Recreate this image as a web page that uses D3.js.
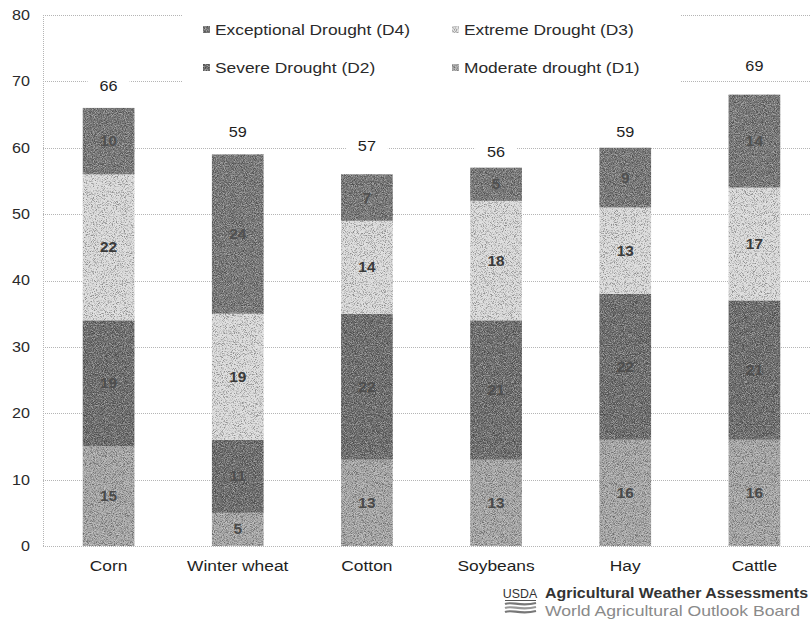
<!DOCTYPE html>
<html>
<head>
<meta charset="utf-8">
<script src="https://cdn.jsdelivr.net/npm/d3@7"></script>
<style>
  html, body { margin: 0; padding: 0; background: #fff; }
  svg { display: block; }
  text { font-family: "Liberation Sans", Arial, sans-serif; }
</style>
</head>
<body>
<svg id="chart" width="810" height="626"></svg>
<script>
// Share of production / inventory in drought, by commodity (%)
const categories = ["Corn", "Winter wheat", "Cotton", "Soybeans", "Hay", "Cattle"];
const moderateD1 = [15, 5, 13, 13, 16, 16];
const severeD2 = [19, 11, 22, 21, 22, 21];
const extremeD3 = [22, 19, 14, 18, 13, 17];
const exceptionalD4 = [10, 24, 7, 5, 9, 14];
const totals = [66, 59, 57, 56, 59, 69];
const yTicks = [0, 10, 20, 30, 40, 50, 60, 70, 80];

const series = [
  { key: "D1", name: "Moderate drought (D1)", values: moderateD1, color: "#a6a6a6", text: "#4a4a4a" },
  { key: "D2", name: "Severe Drought (D2)", values: severeD2, color: "#6e6e6e", text: "#4e4e4e" },
  { key: "D3", name: "Extreme Drought (D3)", values: extremeD3, color: "#d9d9d9", text: "#3a3a3a" },
  { key: "D4", name: "Exceptional Drought (D4)", values: exceptionalD4, color: "#787878", text: "#505050" }
];

const svg = d3.select("#chart");

// widen text horizontally (the lettering is set wide)
function stretch(sel, k) {
  sel.each(function () {
    const len = this.getComputedTextLength();
    d3.select(this).attr("textLength", len * k).attr("lengthAdjust", "spacingAndGlyphs");
  });
}

// grain texture for the bar fills: dark and light specks over the flat fill
const defs = svg.append("defs");
const f = defs.append("filter").attr("id", "grain")
  .attr("x", 0).attr("y", 0).attr("width", 1).attr("height", 1)
  .attr("color-interpolation-filters", "sRGB");
f.append("feTurbulence").attr("type", "fractalNoise").attr("baseFrequency", 1.1)
  .attr("numOctaves", 2).attr("seed", 7).attr("result", "noise");
f.append("feColorMatrix").attr("in", "noise").attr("type", "matrix")
  .attr("values", "0 0 0 0 0  0 0 0 0 0  0 0 0 0 0  4 0 0 0 -2.0").attr("result", "dark");
f.append("feColorMatrix").attr("in", "noise").attr("type", "matrix")
  .attr("values", "0 0 0 0 1  0 0 0 0 1  0 0 0 0 1  -4 0 0 0 2.0").attr("result", "light");
f.append("feComposite").attr("in", "dark").attr("in2", "SourceGraphic").attr("operator", "in").attr("result", "darkIn");
f.append("feComposite").attr("in", "light").attr("in2", "SourceGraphic").attr("operator", "in").attr("result", "lightIn");
f.append("feComponentTransfer").attr("in", "darkIn").attr("result", "darkA")
  .append("feFuncA").attr("type", "linear").attr("slope", 0.35);
f.append("feComponentTransfer").attr("in", "lightIn").attr("result", "lightA")
  .append("feFuncA").attr("type", "linear").attr("slope", 0.35);
const merge = f.append("feMerge");
merge.append("feMergeNode").attr("in", "SourceGraphic");
merge.append("feMergeNode").attr("in", "darkA");
merge.append("feMergeNode").attr("in", "lightA");

const x = d3.scaleBand().domain(categories).range([44, 819]).paddingInner(0.6).paddingOuter(0.3);
const y = d3.scaleLinear().domain([0, 80]).range([546, 15]);

// gridlines
const grid = svg.append("g");
grid.selectAll("line").data(yTicks).join("line")
  .attr("x1", 43).attr("x2", 810)
  .attr("y1", d => Math.round(y(d)) + 0.5).attr("y2", d => Math.round(y(d)) + 0.5)
  .attr("stroke", "#b5b5b5").attr("stroke-dasharray", "1,1");

// vertical axis line
svg.append("line").attr("x1", 43.5).attr("x2", 43.5).attr("y1", y(80)).attr("y2", y(0))
  .attr("stroke", "#b5b5b5").attr("stroke-dasharray", "1,1");

// y tick labels
const yAxis = d3.axisLeft(y).tickValues(yTicks).tickSize(0).tickPadding(13);
const ya = svg.append("g").attr("transform", "translate(43,0)").call(yAxis);
ya.select(".domain").remove();
ya.selectAll("text").attr("font-size", 14).attr("fill", "#2a2a2a")
  .style("font-family", "'Liberation Sans', Arial, sans-serif");
stretch(ya.selectAll("text"), 1.15);

// legend box (white, hides gridlines behind it)
svg.append("rect").attr("x", 182).attr("y", 4).attr("width", 498).attr("height", 86).attr("fill", "#fff");
const legendOrder = [series[3], series[2], series[1], series[0]];
const legendPos = [[203, 30], [452, 30], [203, 68], [452, 68]];
const lg = svg.append("g");
legendOrder.forEach((s, i) => {
  const [lx, ly] = legendPos[i];
  lg.append("rect").attr("x", lx).attr("y", ly - 4).attr("width", 7).attr("height", 7)
    .attr("fill", s.color).attr("filter", "url(#grain)");
  const t = lg.append("text").attr("x", lx + 12).attr("y", ly + 5).attr("font-size", 14)
    .attr("fill", "#2a2a2a").text(s.name);
  stretch(t, 1.24);
});

// stacked bars
const rows = categories.map((c, i) => {
  const r = { category: c };
  series.forEach(s => { r[s.key] = s.values[i]; });
  return r;
});
const stack = d3.stack().keys(series.map(s => s.key))(rows);

const barsG = svg.append("g");
stack.forEach((layer, li) => {
  const s = series[li];
  const g = barsG.append("g");
  g.selectAll("rect").data(layer).join("rect")
    .attr("x", d => x(d.data.category))
    .attr("width", x.bandwidth())
    .attr("y", d => y(d[1]))
    .attr("height", d => y(d[0]) - y(d[1]))
    .attr("fill", s.color)
    .attr("filter", "url(#grain)");
  const labels = g.selectAll("text").data(layer).join("text")
    .attr("x", d => x(d.data.category) + x.bandwidth() / 2)
    .attr("y", d => (y(d[0]) + y(d[1])) / 2 + 5)
    .attr("text-anchor", "middle").attr("font-size", 14).attr("font-weight", "bold")
    .attr("fill", s.text)
    .text(d => d[1] - d[0]);
  stretch(labels, 1.1);
});

// total labels above each bar
const tot = svg.append("g");
categories.forEach((c, i) => {
  const cx = x(c) + x.bandwidth() / 2;
  const cy = y(totals[i]) - 22;
  tot.append("rect").attr("x", cx - 21).attr("y", cy - 10).attr("width", 42).attr("height", 20).attr("fill", "#fff");
  const t = tot.append("text").attr("x", cx).attr("y", cy + 5).attr("text-anchor", "middle")
    .attr("font-size", 14.5).attr("fill", "#1e1e1e").text(totals[i]);
  stretch(t, 1.12);
});

// category labels
const cats = svg.append("g").selectAll("text").data(categories).join("text")
  .attr("x", d => x(d) + x.bandwidth() / 2).attr("y", 571)
  .attr("text-anchor", "middle").attr("font-size", 14).attr("fill", "#1e1e1e")
  .text(d => d);
stretch(cats, 1.24);

// agency credit, bottom right
const credit = svg.append("g");
const usda = credit.append("text").attr("x", 520).attr("y", 598).attr("text-anchor", "middle")
  .attr("font-size", 13).attr("fill", "#333").text("USDA");
stretch(usda, 0.95);
credit.append("line").attr("x1", 505).attr("x2", 536).attr("y1", 600.5).attr("y2", 600.5)
  .attr("stroke", "#555").attr("stroke-width", 1);
[604, 608, 612].forEach((yy, k) => {
  credit.append("path")
    .attr("d", `M505,${yy} C512,${yy - 3} 520,${yy + 3} 536,${yy - 1}`)
    .attr("fill", "none").attr("stroke", k === 1 ? "#999" : "#777").attr("stroke-width", 2.2);
});
const c1 = credit.append("text").attr("x", 545).attr("y", 598).attr("font-size", 14.5).attr("font-weight", "bold")
  .attr("fill", "#333").text("Agricultural Weather Assessments");
c1.attr("textLength", 263).attr("lengthAdjust", "spacingAndGlyphs");
const c2 = credit.append("text").attr("x", 545).attr("y", 616).attr("font-size", 14.5)
  .attr("fill", "#8a8a8a").text("World Agricultural Outlook Board");
c2.attr("textLength", 255).attr("lengthAdjust", "spacingAndGlyphs");
</script>
</body>
</html>
